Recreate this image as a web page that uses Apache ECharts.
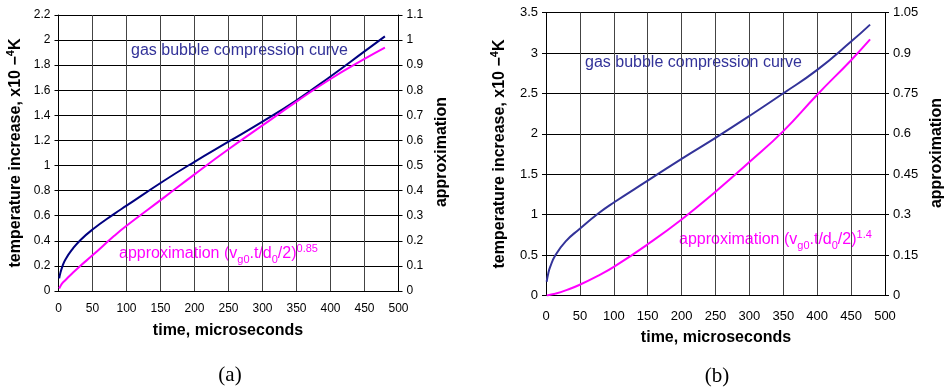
<!DOCTYPE html>
<html>
<head>
<meta charset="utf-8">
<script src="https://cdn.jsdelivr.net/npm/echarts@6/dist/echarts.min.js"></script>
<style>
html,body{margin:0;padding:0;background:#fff;}
#c{width:946px;height:389px;}
</style>
</head>
<body>
<div id="c"></div>
<script>
// ---- Data ----
// Chart (a)
const timeA   = [1, 3, 6, 10, 20, 32, 50, 82, 100, 154, 200, 250, 300, 350, 400, 450, 480];
const bubbleA = [0.10, 0.15, 0.20, 0.25, 0.33, 0.405, 0.49, 0.615, 0.68, 0.875, 1.03, 1.19, 1.35, 1.52, 1.71, 1.91, 2.03];
const approxA = [0.01, 0.02, 0.032, 0.043, 0.07, 0.10, 0.142, 0.22, 0.26, 0.37, 0.465, 0.565, 0.66, 0.755, 0.845, 0.925, 0.97];
// Chart (b)
const timeB   = [1, 3, 6, 14, 29, 49, 78, 100, 150, 200, 250, 300, 350, 400, 450, 478];
const bubbleB = [0.17, 0.26, 0.35, 0.50, 0.67, 0.82, 1.02, 1.15, 1.42, 1.69, 1.95, 2.22, 2.50, 2.79, 3.14, 3.35];
const approxB = [0.0, 0.001, 0.003, 0.007, 0.019, 0.039, 0.075, 0.106, 0.19, 0.282, 0.385, 0.495, 0.61, 0.745, 0.873, 0.95];
// Axis ranges
const xRange = {min: 0, max: 500, step: 50};
const leftA  = {min: 0, max: 2.2, step: 0.2};
const rightA = {min: 0, max: 1.1, step: 0.1};
const leftB  = {min: 0, max: 3.5, step: 0.5};
const rightB = {min: 0, max: 1.05, step: 0.15};
// Texts
const xTitle = 'time, microseconds';
const yTitleParts = ['temperature increase, x10', '\u2212', '4', 'K'];
const y2Title = 'approximation';
const bubbleLabel = 'gas bubble compression curve';
const panelLabels = ['(a)', '(b)'];

const zip = (xs, ys) => xs.map((x, i) => [x, ys[i]]);

const chart = echarts.init(document.getElementById('c'), null, {renderer: 'canvas'});
const FONT = '"Liberation Sans", Arial, sans-serif';

function xAxis(gridIndex, fs, margin) {
  return {
    type: 'value', gridIndex, min: xRange.min, max: xRange.max, interval: xRange.step,
    axisLine: {show: true, onZero: false, lineStyle: {color: '#000', width: 1}},
    axisTick: {show: false},
    axisLabel: {color: '#000', fontFamily: FONT, fontSize: fs, margin},
    splitLine: {show: true, lineStyle: {color: '#444', width: 1}}
  };
}
function yAxis(gridIndex, r, pos, fs, split) {
  return {
    type: 'value', gridIndex, position: pos, min: r.min, max: r.max, interval: r.step,
    axisLine: {show: true, onZero: false, lineStyle: {color: '#000', width: 1}},
    axisTick: {show: true, length: 4, inside: false, lineStyle: {color: '#000'}},
    axisLabel: {color: '#000', fontFamily: FONT, fontSize: fs, margin: 8},
    splitLine: {show: split, lineStyle: {color: '#000', width: 1}}
  };
}

const richMain = {fontFamily: FONT, fontSize: 16, lineHeight: 22, verticalAlign: 'middle'};
function approxText(color, exp) {
  return {
    text: '{m|approximation (v}{sub|g0}{m|.t/d}{sub|0}{m|/2)}{sup|' + exp + '}',
    rich: {
      m: Object.assign({}, richMain, {fill: color, color}),
      sub: {fontFamily: FONT, fontSize: 11, lineHeight: 11, verticalAlign: 'bottom', fill: color, color},
      sup: {fontFamily: FONT, fontSize: 11, lineHeight: 11, verticalAlign: 'top', fill: color, color}
    }
  };
}
function yTitle(x, y) {
  return {
    type: 'text', x, y, rotation: Math.PI / 2,
    style: {
      text: '{b|' + yTitleParts[0] + '}{b| ' + yTitleParts[1] + '}{s|' + yTitleParts[2] + '}{b|' + yTitleParts[3] + '}',
      rich: {
        b: {fontFamily: FONT, fontSize: 16, fontWeight: 'bold', lineHeight: 22, verticalAlign: 'middle', fill: '#000'},
        s: {fontFamily: FONT, fontSize: 11, fontWeight: 'bold', lineHeight: 11, verticalAlign: 'top', fill: '#000'}
      },
      align: 'center', verticalAlign: 'middle'
    }
  };
}
function boldText(x, y, text, rot) {
  return {
    type: 'text', x, y, rotation: rot || 0,
    style: {text, fontFamily: FONT, fontSize: 16, fontWeight: 'bold', fill: '#000', align: 'center', verticalAlign: 'middle'}
  };
}

const lineSeries = (xi, yi, xs, ys, color) => ({
  type: 'line', xAxisIndex: xi, yAxisIndex: yi, data: zip(xs, ys),
  smooth: true, showSymbol: false, silent: true,
  lineStyle: {color, width: 2}
});

const option = {
  animation: false,
  backgroundColor: '#fff',
  grid: [
    {left: 58.5, top: 15, width: 340, height: 276},
    {left: 546, top: 12.5, width: 339, height: 283}
  ],
  xAxis: [xAxis(0, 12, 12), xAxis(1, 13, 14)],
  yAxis: [
    yAxis(0, leftA, 'left', 12, true),
    yAxis(0, rightA, 'right', 12, false),
    yAxis(1, leftB, 'left', 13, true),
    yAxis(1, rightB, 'right', 13, false)
  ],
  series: [
    lineSeries(0, 0, timeA, bubbleA, '#000080'),
    lineSeries(0, 1, timeA, approxA, '#ff00ff'),
    lineSeries(1, 2, timeB, bubbleB, '#333399'),
    lineSeries(1, 3, timeB, approxB, '#ff00ff')
  ],
  graphic: [
    // chart (a)
    {type: 'text', x: 131, y: 51, style: {text: bubbleLabel, fontFamily: FONT, fontSize: 16, fill: '#333399', align: 'left', verticalAlign: 'middle'}},
    {type: 'text', x: 119, y: 254, style: Object.assign(approxText('#ff00ff', '0.85'), {align: 'left', verticalAlign: 'middle'})},
    yTitle(16, 153),
    boldText(442, 152, y2Title, Math.PI / 2),
    boldText(228, 331, xTitle),
    {type: 'text', x: 230, y: 375, style: {text: panelLabels[0], fontFamily: '"Liberation Serif", "Times New Roman", serif', fontSize: 21, fill: '#000', align: 'center', verticalAlign: 'middle'}},
    // chart (b)
    {type: 'text', x: 585, y: 63, style: {text: bubbleLabel, fontFamily: FONT, fontSize: 16, fill: '#333399', align: 'left', verticalAlign: 'middle'}},
    {type: 'text', x: 679, y: 240, style: Object.assign(approxText('#ff00ff', '1.4'), {align: 'left', verticalAlign: 'middle'})},
    yTitle(500, 154),
    boldText(937, 153, y2Title, Math.PI / 2),
    boldText(716, 338, xTitle),
    {type: 'text', x: 717, y: 376, style: {text: panelLabels[1], fontFamily: '"Liberation Serif", "Times New Roman", serif', fontSize: 21, fill: '#000', align: 'center', verticalAlign: 'middle'}}
  ]
};
chart.setOption(option);
</script>
</body>
</html>
